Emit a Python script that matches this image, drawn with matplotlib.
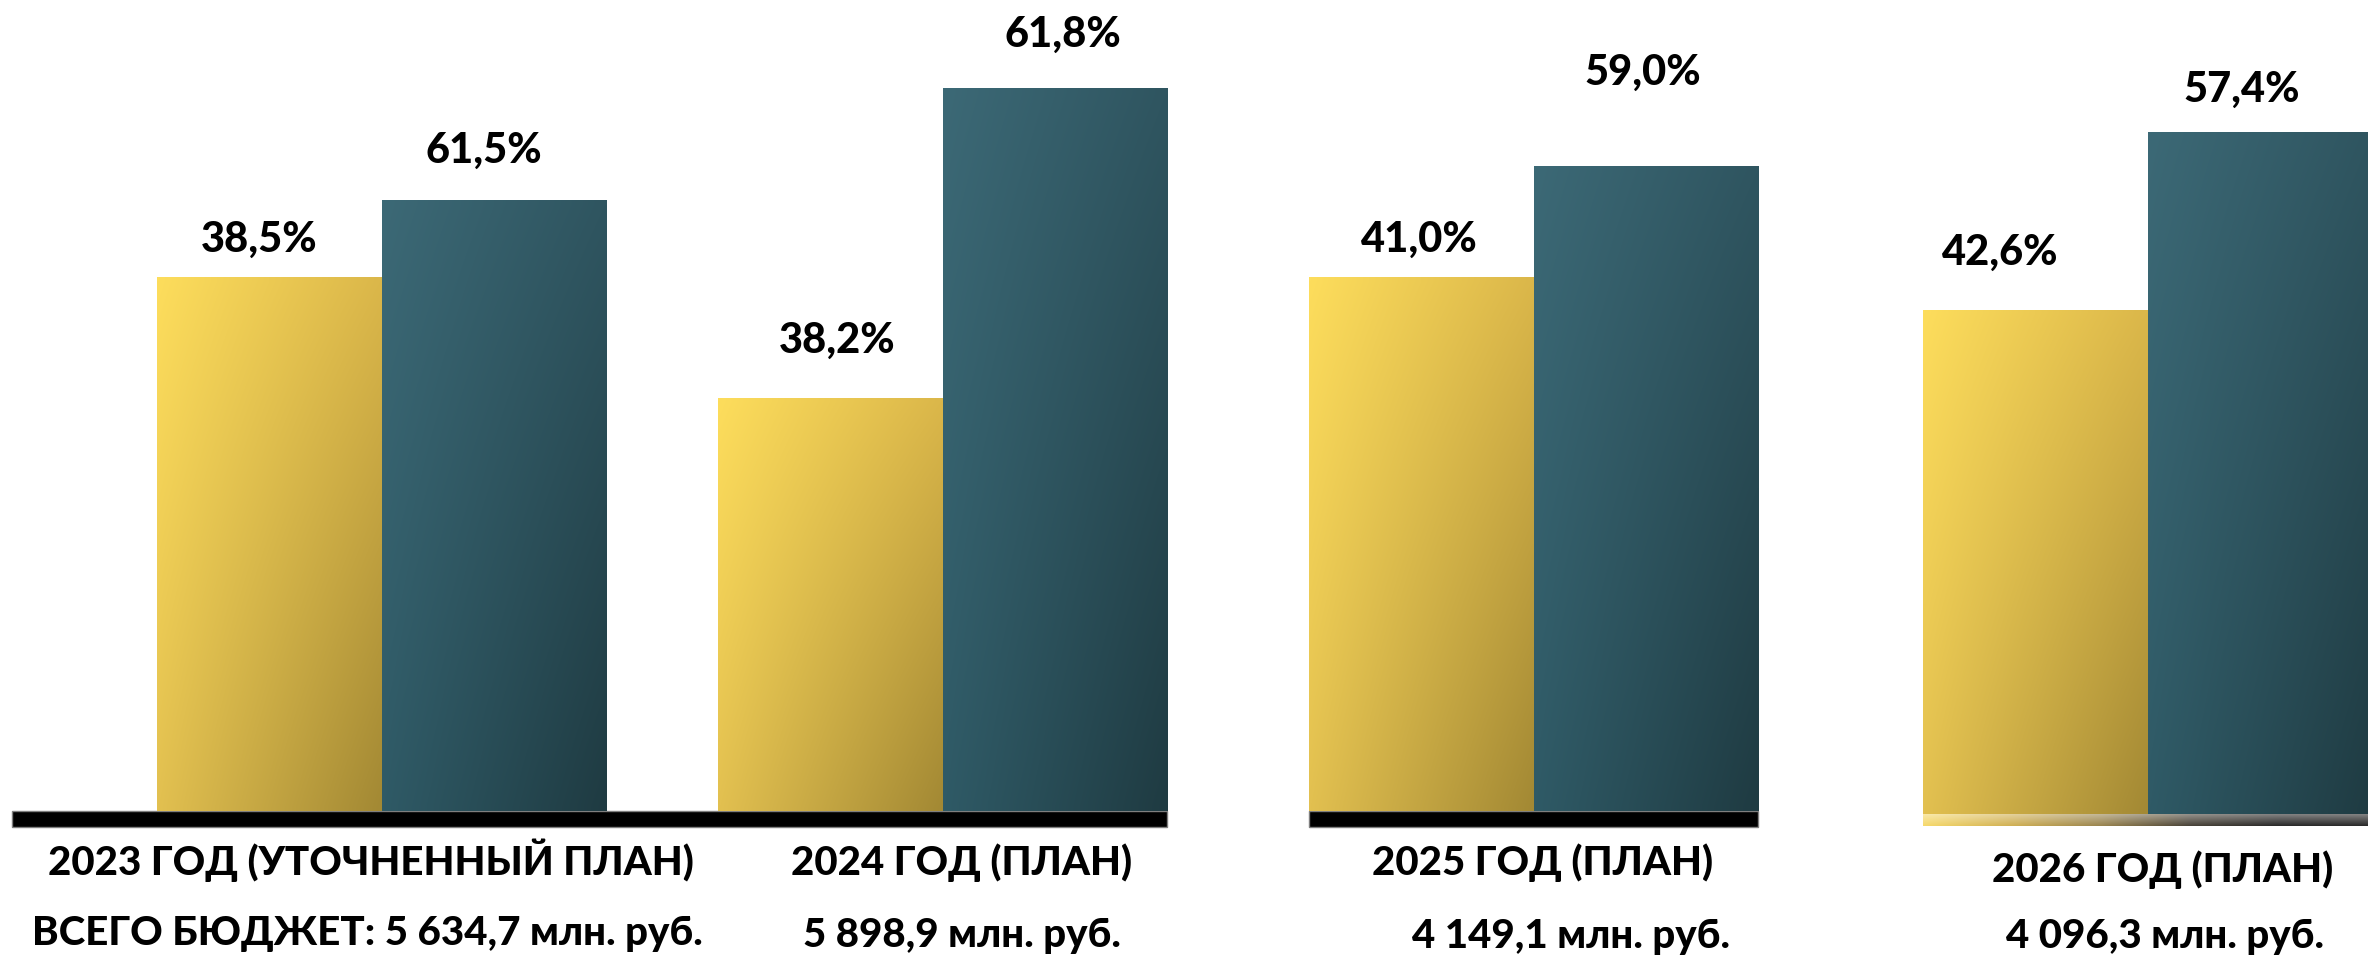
import numpy as np
import matplotlib
matplotlib.use("Agg")
import matplotlib.pyplot as plt
from matplotlib.colors import to_rgb
from matplotlib.patches import Rectangle

plt.rcParams['font.family'] = ['Lato', 'DejaVu Sans']

# data
years = ["2023 ГОД (УТОЧНЕННЫЙ ПЛАН)", "2024 ГОД (ПЛАН)", "2025 ГОД (ПЛАН)", "2026 ГОД (ПЛАН)"]
totals = ["ВСЕГО БЮДЖЕТ: 5 634,7 млн. руб.", "5 898,9 млн. руб.",
          "4 149,1 млн. руб.", "4 096,3 млн. руб."]
share_yellow = [38.5, 38.2, 41.0, 42.6]
share_teal = [61.5, 61.8, 59.0, 57.4]

# layout (pixels of a 2368x959 canvas)
W, H = 2368, 959
group_left = [157, 718, 1309, 1923]
bar_w = 225
group_base = [811, 811, 811, 814]
# each group was a separate chart with its own value axis
group_ylim = [(-121.0, 121.25), (6.76, 68.50), (-45.59, 85.92), (0.69, 68.37)]
lab_gap = [(25, 37), (45, 41), (25, 81), (45, 30)]
lab_dx = [(-10, -11), (7, 7), (-2, -4), (-35, -19)]
year_x = [371, 962, 1543, 2163]
year_y = [875, 875, 875, 882]
total_x = [367, 962, 1571, 2165]
total_y = [945, 947, 948, 948]

yellow_c = ["#FDDD5C", "#DBB74A", "#E2C050", "#A38934"]
teal_c = ["#3C6976", "#2F5560", "#2F5A66", "#1F3B42"]
WEIGHT = 'black'


def corner_img(c):
    tl, tr, bl, br = [np.array(to_rgb(x)) for x in c]
    n = 64
    u = np.linspace(0, 1, n)[None, :, None]
    v = np.linspace(0, 1, n)[:, None, None]
    top = tl * (1 - u) + tr * u
    bot = bl * (1 - u) + br * u
    return top * (1 - v) + bot * v


def grad_bar(ax, x, val, bottom, colors):
    bar = ax.bar(x, val - bottom, bottom=bottom, width=1.0, color='none',
                 edgecolor='none', align='center')[0]
    img = ax.imshow(corner_img(colors), extent=(x - 0.5, x + 0.5, bottom, val),
                    origin='upper', aspect='auto', interpolation='bilinear', zorder=2)
    img.set_clip_path(bar)
    return bar


fig = plt.figure(figsize=(W / 100, H / 100), dpi=100)
bg = fig.add_axes([0, 0, 1, 1])
bg.set_xlim(0, W)
bg.set_ylim(H, 0)
bg.axis('off')

# baselines
bg.add_patch(Rectangle((12, 811), 1167 - 12, 16, facecolor='black', edgecolor='#7f7f7f', lw=1))
bg.add_patch(Rectangle((1309, 811), 1758 - 1309, 16, facecolor='black', edgecolor='#7f7f7f', lw=1))
shadow = np.array([to_rgb(c) for c in ["#F6D96C", "#D0B055", "#9A8550", "#4A443A", "#2B2B2B", "#2B2B2B"]])
xs = np.linspace(0, 1, len(shadow))
xi = np.linspace(0, 1, 200)
row = np.stack([np.interp(xi, xs, shadow[:, k]) for k in range(3)], axis=-1)
fade = np.linspace(0.6, 1.0, 12)[:, None, None]
sh_img = 1 - (1 - row[None, :, :]) * fade
bg.imshow(sh_img, extent=(1923, W, 826, 814), aspect='auto', interpolation='bilinear')
bg.set_xlim(0, W)
bg.set_ylim(H, 0)

for i in range(4):
    x0 = group_left[i]
    base = group_base[i]
    ax = fig.add_axes([x0 / W, (H - base) / H, 2 * bar_w / W, base / H])
    ax.set_xlim(-0.5, 1.5)
    y0, y1 = group_ylim[i]
    ax.set_ylim(y0, y1)
    ax.axis('off')
    for j, (val, cols) in enumerate([(share_yellow[i], yellow_c), (share_teal[i], teal_c)]):
        grad_bar(ax, j, val, y0, cols)
        ax.annotate(f"{val:.1f}".replace('.', ',') + '%', (j, val),
                    xytext=(lab_dx[i][j], lab_gap[i][j]), textcoords='offset pixels',
                    ha='center', va='baseline', fontsize=30, fontweight=WEIGHT,
                    color='black', annotation_clip=False)
    ax.set_xlim(-0.5, 1.5)
    ax.set_ylim(y0, y1)

for i in range(4):
    bg.text(year_x[i], year_y[i], years[i], ha='center', va='baseline',
            fontsize=29, fontweight=WEIGHT, color='black')
    bg.text(total_x[i], total_y[i], totals[i], ha='center', va='baseline',
            fontsize=29, fontweight=WEIGHT, color='black')

fig.savefig("out.png", dpi=100, facecolor='white')
